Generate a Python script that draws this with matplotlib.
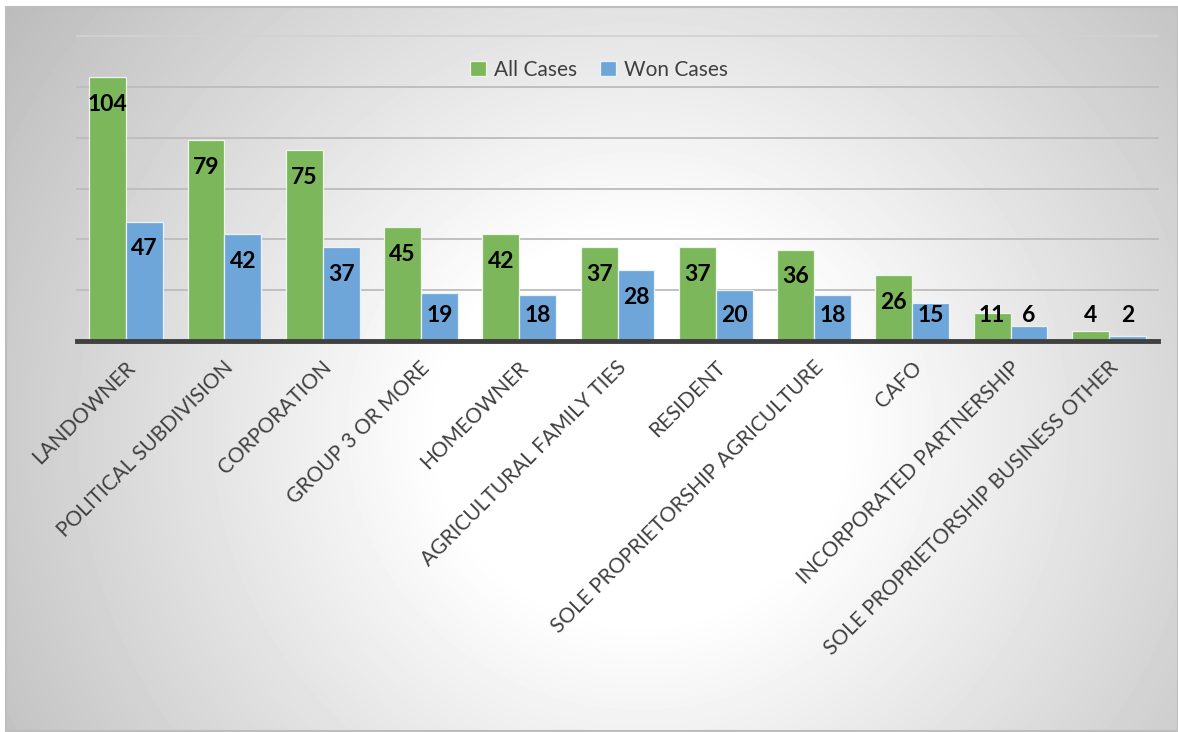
import matplotlib
matplotlib.use("Agg")
import matplotlib.pyplot as plt
import matplotlib.transforms as mtransforms
import numpy as np
from matplotlib.patches import Rectangle

# ── data ─────────────────────────────────────────────────────────────────────
categories = [
    "LANDOWNER",
    "POLITICAL SUBDIVISION",
    "CORPORATION",
    "GROUP 3 OR MORE",
    "HOMEOWNER",
    "AGRICULTURAL FAMILY TIES",
    "RESIDENT",
    "SOLE PROPRIETORSHIP AGRICULTURE",
    "CAFO",
    "INCORPORATED PARTNERSHIP",
    "SOLE PROPRIETORSHIP BUSINESS OTHER",
]
all_cases = [104, 79, 75, 45, 42, 37, 37, 36, 26, 11, 4]
won_cases = [47, 42, 37, 19, 18, 28, 20, 18, 15, 6, 2]
y_ticks = [0, 20, 40, 60, 80, 100, 120]

GREEN = "#7cb75b"
BLUE = "#6fa6da"
TEXT = "#404040"
FONT = "Lato"

W, H = 1178, 732
fig = plt.figure(figsize=(W / 100, H / 100), dpi=100)
fig.patch.set_facecolor("white")

# ── backdrop: radial grey-to-white fill inside a thin frame ─────────────────
bg = fig.add_axes([0, 0, 1, 1], zorder=0)
bg.set_xlim(0, W)
bg.set_ylim(H, 0)
bg.axis("off")
yy, xx = np.mgrid[7:731, 6:W]
dist = np.hypot(xx - 640, (yy - 430) * 1.05)
shade = np.clip(255 - 0.118 * np.clip(dist - 200, 0, None), 0, 255) / 255
bg.imshow(shade, cmap="gray", vmin=0, vmax=1, extent=(6, W, 731, 7),
          aspect="auto", interpolation="bilinear")
bg.add_patch(Rectangle((6, 7), W - 6, 724, fill=False,
                       edgecolor="#bdbdbd", linewidth=1.5))

# ── bars ─────────────────────────────────────────────────────────────────────
ax = fig.add_axes([77 / W, (H - 341) / H, 1081 / W, 305 / H], zorder=1)
ax.set_facecolor("none")
x = np.arange(len(categories))
bw = 0.375

for t in y_ticks[1:]:
    ax.axhline(t, color="#d2d2d2" if t == y_ticks[-1] else "#bcbcbc",
               linewidth=1.3, zorder=0, clip_on=False)

ax.bar(x - bw / 2, all_cases, bw, color=GREEN, edgecolor="#eef5ea",
       linewidth=0.9, label="All Cases", zorder=2)
ax.bar(x + bw / 2, won_cases, bw, color=BLUE, edgecolor="#eaf2fa",
       linewidth=0.9, label="Won Cases", zorder=2)
ax.axhline(0, color="#404040", linewidth=3.5, zorder=3, clip_on=False)

# value labels sit just inside the bar top, never lower than a fixed floor
for xs, vals in ((x - bw / 2, all_cases), (x + bw / 2, won_cases)):
    for xi, v in zip(xs, vals):
        ax.text(xi, max(v - 10.8, 10.0), str(v), ha="center", va="center",
                fontsize=16.5, fontweight="bold", color="black",
                family=FONT, zorder=4)

ax.set_xlim(-0.5, len(categories) - 0.5)
ax.set_ylim(0, 120)
ax.set_yticks([])
ax.set_xticks(x)
ax.set_xticklabels(categories, rotation=45, ha="right", va="center",
                   rotation_mode="anchor", fontsize=15, color=TEXT,
                   family=FONT)
ax.tick_params(axis="x", length=0, pad=17)
shift = mtransforms.ScaledTranslation(6 / 100, 0, fig.dpi_scale_trans)
for lbl in ax.get_xticklabels():
    lbl.set_transform(lbl.get_transform() + shift)
for s in ax.spines.values():
    s.set_visible(False)

leg = ax.legend(loc="center", bbox_to_anchor=(0.483, 0.89), ncol=2,
                frameon=False, handlelength=0.75, handleheight=0.75,
                handletextpad=0.4, columnspacing=1.1,
                prop={"family": FONT, "size": 15})
for txt in leg.get_texts():
    txt.set_color(TEXT)

fig.savefig("out.png", dpi=100)
